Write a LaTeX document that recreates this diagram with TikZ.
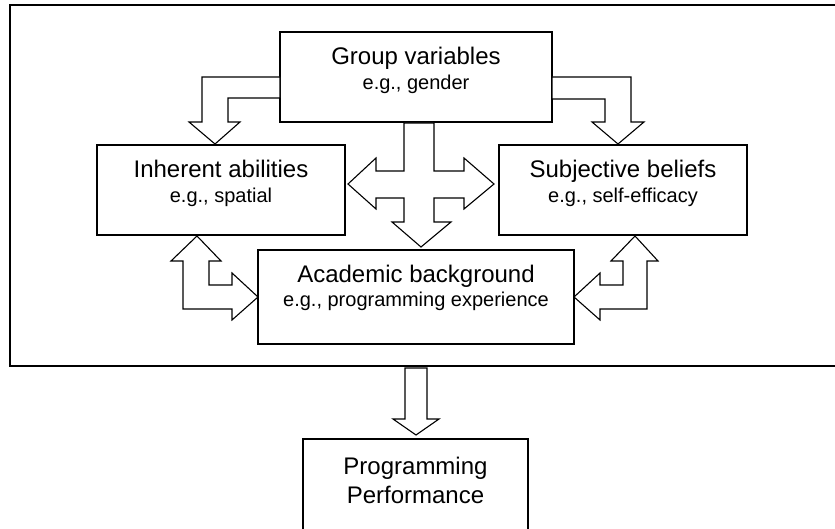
\documentclass[tikz,border=0pt]{standalone}
\usepackage{fontspec}
\setmainfont{Liberation Sans}
\begin{document}
\begin{tikzpicture}[x=1pt,y=-1pt,
  box/.style={draw,line width=1.3pt,inner sep=0pt,outer sep=0pt,rectangle},
  ttl/.style={anchor=base,font=\fontsize{24}{28}\selectfont,inner sep=0pt},
  sub/.style={anchor=base,font=\fontsize{20}{24}\selectfont,inner sep=0pt},
  blk/.style={draw,fill=white,line width=1.1pt,line join=miter}]
\useasboundingbox (0,0) rectangle (835,529);
\clip (0,0) rectangle (835,529);
% outer frame (right side runs off the picture)
\node[box,line width=1.7pt,minimum width=840pt,minimum height=361pt] (frame) at (430,185.5) {};
% boxes
\node[box,minimum width=272pt,minimum height=90pt] (grp) at (416,77) {};
\node[box,minimum width=248pt,minimum height=90pt] (inh) at (221,190) {};
\node[box,minimum width=248pt,minimum height=90pt] (subj) at (623,190) {};
\node[box,minimum width=316pt,minimum height=94pt] (acad) at (416,297) {};
\node[box,minimum width=225pt,minimum height=121pt] (perf) at (415.5,499.5) {};
% texts
\node[ttl] (grpT) at ([yshift=-33pt]grp.north) {Group variables};
\node[sub] (grpS) at ([yshift=-58pt]grp.north) {e.g., gender};
\node[ttl] (inhT) at ([yshift=-33pt]inh.north) {Inherent abilities};
\node[sub] (inhS) at ([yshift=-58pt]inh.north) {e.g., spatial};
\node[ttl] (subjT) at ([yshift=-33pt]subj.north) {Subjective beliefs};
\node[sub] (subjS) at ([yshift=-58pt]subj.north) {e.g., self-efficacy};
\node[ttl] (acadT) at ([yshift=-33pt]acad.north) {Academic background};
\node[sub] (acadS) at ([yshift=-56pt]acad.north) {e.g., programming experience};
\node[ttl] (perfT1) at ([yshift=-35pt]perf.north) {Programming};
\node[ttl] (perfT2) at ([yshift=-64pt]perf.north) {Performance};
% block arrows
\draw[blk] (280,77) -- (202,77) -- (202,122) -- (189,122) -- (215,144) -- (240,122) -- (228,122) -- (228,98) -- (280,98) -- cycle;
\draw[blk] (552,77) -- (631,77) -- (631,122) -- (644,122) -- (618,144) -- (592,122) -- (605,122) -- (605,99) -- (552,99) -- cycle;
\draw[blk] (404,123) -- (404,171) -- (376,171) -- (376,158) -- (348,184) -- (376,209) -- (376,198) -- (404,198) -- (404,222) -- (392,222) -- (421,247) -- (451,222) -- (434,222) -- (434,198) -- (464,198) -- (464,209) -- (494,184) -- (464,158) -- (464,171) -- (434,171) -- (434,123) -- cycle;
\draw[blk] (183,261) -- (171,261) -- (197,236) -- (221,261) -- (209,261) -- (209,285) -- (232,285) -- (232,273) -- (258,297) -- (232,320) -- (232,309) -- (183,309) -- cycle;
\draw[blk] (647,261) -- (658,261) -- (635,236) -- (611,261) -- (623,261) -- (623,285) -- (600,285) -- (600,273) -- (574,297) -- (600,320) -- (600,309) -- (647,309) -- cycle;
\draw[blk] (405,368) -- (405,419) -- (393,419) -- (416,435) -- (439,419) -- (427,419) -- (427,368) -- cycle;
\end{tikzpicture}
\end{document}
